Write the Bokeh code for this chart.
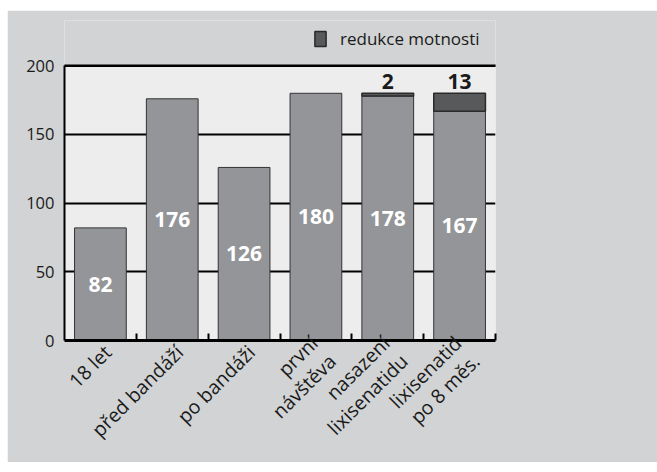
import math
from bokeh.plotting import figure
from bokeh.models import ColumnDataSource, FixedTicker, Legend, LegendItem, Range1d
from bokeh.core.properties import value
from bokeh.embed import file_html
from bokeh.resources import INLINE

categories = ["18 let", "před bandáží", "po bandáži", "první\nnávštěva",
              "nasazení\nlixisenatidu", "lixisenatid\npo 8 měs."]
weight = [82, 176, 126, 180, 178, 167]
reduction = [0, 0, 0, 0, 2, 13]
y_ticks = [0, 50, 100, 150, 200]
legend_label = "redukce motnosti"

FONT = "Open Sans"
idx = list(range(len(categories)))
tops = [w + r for w, r in zip(weight, reduction)]
x_start, x_end = -0.5, len(categories) - 0.5
y_end = 233
label_pos = [i + 0.1 for i in idx]   # category labels end just right of bar centre

src = ColumnDataSource(dict(
    x=idx, weight=weight, tops=tops,
    mid=[w / 2 for w in weight],
    wlabel=[str(w) for w in weight],
))
red_idx = [i for i, r in enumerate(reduction) if r > 0]
red_src = ColumnDataSource(dict(
    x=red_idx,
    bottom=[weight[i] for i in red_idx],
    top=[tops[i] for i in red_idx],
    label=[str(reduction[i]) for i in red_idx],
))

OUTER = "#d1d3d4"
INNER = "#ededed"
p = figure(width=650, height=452, output_backend="svg", toolbar_location=None,
           x_range=Range1d(x_start, x_end), y_range=Range1d(0, y_end),
           min_border_left=57, min_border_right=162, min_border_top=10, min_border_bottom=120,
           background_fill_color=INNER, border_fill_color=OUTER)
p.margin = (10, 0, 10, 7)
p.outline_line_color = None

# strip above the value axis (200..top) in the outer colour; its lower edge is the top rule
p.quad(left=[x_start - 1], right=[x_end + 1], bottom=[y_ticks[-1]], top=[y_end + 20],
       fill_color=OUTER, line_color="black", line_width=2.5)

bars = p.vbar(x="x", top="weight", bottom=0, width=0.72, source=src,
              fill_color="#939598", line_color="#333333", line_width=1)
red = p.vbar(x="x", top="top", bottom="bottom", width=0.72, source=red_src,
             fill_color="#58595b", line_color="#2a2a2a", line_width=1.5)

p.text(x="x", y="mid", text="wlabel", source=src, text_color="white",
       text_font=value(FONT), text_font_style="bold", text_font_size="21px",
       text_align="center", text_baseline="middle")
p.text(x="x", y="top", text="label", source=red_src, text_color="#1a1a1a",
       text_font=value(FONT), text_font_style="bold", text_font_size="21px",
       text_align="center", text_baseline="bottom", y_offset=-4)

# axes
p.xgrid.visible = False
p.ygrid.ticker = FixedTicker(ticks=y_ticks)
p.ygrid.grid_line_color = "black"
p.ygrid.grid_line_width = 2
p.ygrid.level = "underlay"

p.yaxis.ticker = FixedTicker(ticks=y_ticks)
p.yaxis.bounds = (y_ticks[0], y_ticks[-1])
p.yaxis.axis_line_color = "black"
p.yaxis.axis_line_width = 2
p.yaxis.major_tick_line_color = None
p.yaxis.major_tick_out = 0
p.yaxis.major_tick_in = 0
p.yaxis.minor_tick_line_color = None
p.yaxis.major_label_text_font = FONT
p.yaxis.major_label_text_font_size = "16.5px"
p.yaxis.major_label_text_color = "#1a1a1a"
p.yaxis.major_label_standoff = 10

p.xaxis.ticker = FixedTicker(ticks=label_pos, minor_ticks=[i + 0.5 for i in idx])
p.xaxis.major_label_overrides = {t: c for t, c in zip(label_pos, categories)}
p.xaxis.axis_line_color = "black"
p.xaxis.axis_line_width = 3
p.xaxis.major_tick_line_color = None
p.xaxis.major_tick_out = 0
p.xaxis.major_tick_in = 0
p.xaxis.minor_tick_line_color = "black"
p.xaxis.minor_tick_line_width = 2
p.xaxis.minor_tick_in = 7
p.xaxis.minor_tick_out = 0
p.xaxis.major_label_orientation = math.pi / 4
p.xaxis.major_label_text_font = FONT
p.xaxis.major_label_text_font_size = "19.5px"
p.xaxis.major_label_text_line_height = 0.95
p.xaxis.major_label_text_color = "#1a1a1a"
p.xaxis.major_label_standoff = 8

legend = Legend(items=[LegendItem(label=legend_label, renderers=[red])],
                location=(249, 290), orientation="horizontal",
                padding=0, margin=0, spacing=0,
                glyph_width=14, glyph_height=19, label_height=19,
                label_standoff=13,
                background_fill_color=OUTER, background_fill_alpha=1,
                border_line_color=None, border_line_alpha=0,
                label_text_font=FONT, label_text_font_size="17px",
                label_text_color="#1a1a1a")
p.add_layout(legend, "center")

open("out.html", "w").write(file_html(p, INLINE))
